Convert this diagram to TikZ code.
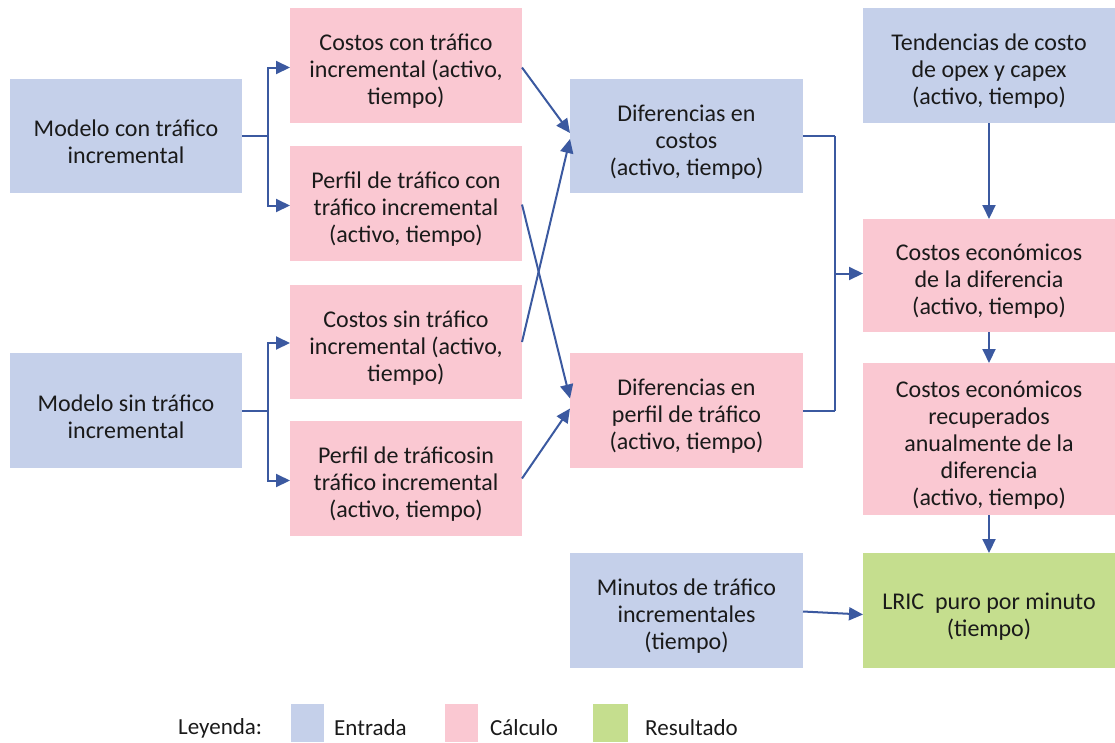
\documentclass[tikz,border=0pt]{standalone}
\usepackage{fontspec}
\setmainfont{Carlito}
\usetikzlibrary{arrows.meta,calc}
\definecolor{cin}{RGB}{197,208,234}
\definecolor{ccalc}{RGB}{250,200,210}
\definecolor{cres}{RGB}{197,222,142}
\definecolor{cline}{RGB}{59,89,160}
\definecolor{ctext}{RGB}{26,26,26}
\tikzset{
  box/.style={inner sep=0pt, outer sep=0pt},
  txt/.style={inner sep=0pt, outer sep=0pt, align=center, text=ctext,
    font=\fontsize{24}{27}\selectfont},
  inbox/.style={box, fill=cin},
  calcbox/.style={box, fill=ccalc},
  resbox/.style={box, fill=cres},
  conn/.style={draw=cline, line width=2pt},
  arr/.style={conn, -{Triangle[length=14pt,width=13pt]}},
  legtext/.style={text=ctext, font=\fontsize{23}{26}\selectfont, inner sep=0pt, anchor=west},
}
\newcommand{\bx}[7]{% style, name, x1, y1, x2, y2, text
  \node[#1, minimum width={#5-#3}, minimum height={#6-#4}] (#2) at ({(#3+#5)/2},{(#4+#6)/2}) {};
  \node[txt] (#2-t) at ([yshift=-6pt]#2.center) {#7};}
\begin{document}
\begin{tikzpicture}[x=1pt,y=-1pt]
\useasboundingbox (0,0) rectangle (1115,742);
% inputs
\bx{inbox}{mcon}{10}{79}{242}{193}{Modelo con tráfico\\incremental}
\bx{inbox}{msin}{10}{353}{242}{468}{Modelo sin tráfico\\incremental}
% column 2
\bx{calcbox}{cc}{290}{8}{522}{123}{Costos con tráfico\\incremental (activo,\\tiempo)}
\bx{calcbox}{pc}{290}{146}{522}{261}{Perfil de tráfico con\\tráfico incremental\\(activo, tiempo)}
\bx{calcbox}{cs}{290}{285}{522}{399}{Costos sin tráfico\\incremental (activo,\\tiempo)}
\bx{calcbox}{ps}{290}{421}{522}{536}{Perfil de tráficosin\\tráfico incremental\\(activo, tiempo)}
% column 3
\bx{inbox}{dc}{570}{79}{803}{193}{Diferencias en\\costos\\(activo, tiempo)}
\bx{calcbox}{dp}{570}{353}{803}{468}{Diferencias en\\perfil de tráfico\\(activo, tiempo)}
\bx{inbox}{mt}{570}{553}{803}{668}{Minutos de tráfico\\incrementales\\(tiempo)}
% column 4
\bx{inbox}{te}{863}{8}{1115}{123}{Tendencias de costo\\de opex y capex\\(activo, tiempo)}
\bx{calcbox}{ce}{863}{219}{1115}{332}{Costos económicos\\de la diferencia\\(activo, tiempo)}
\bx{calcbox}{cr}{863}{363}{1115}{515}{Costos económicos\\recuperados\\anualmente de la\\diferencia\\(activo, tiempo)}
\bx{resbox}{lr}{863}{553}{1115}{668}{LRIC\ \ puro por minuto\\(tiempo)}
% connectors: model fan-outs
\draw[conn] (mcon.east) -- ++(26,0) coordinate (j1);
\draw[arr] (j1) |- ([yshift=-2pt]cc.west);
\draw[arr] (j1) |- ([yshift=-2pt]pc.west);
\draw[conn] (msin.east) -- ++(26,0) coordinate (j2);
\draw[arr] (j2) |- ([yshift=-1pt]cs.west);
\draw[arr] (j2) |- ([yshift=-2pt]ps.west);
% diagonals
\draw[arr] ([yshift=-2pt]cc.east) -- ([yshift=3pt]dc.west);
\draw[arr] (cs.east) -- ([yshift=-3pt]dc.west);
\draw[arr] ([yshift=-1pt]pc.east) -- ([yshift=12pt]dp.west);
\draw[arr] (ps.east) -- ([yshift=2pt]dp.west);
% merge to costos economicos
\draw[conn] (dc.east) -- ++(32,0) coordinate (k1);
\draw[conn] (dp.east) -- ++(32,0) coordinate (k2);
\draw[conn] (k1) -- (k2);
\coordinate (k3) at (k1 |- ce.west);
\draw[arr] ([yshift=2pt]k3) -- ([yshift=2pt]ce.west);
% verticals
\draw[arr] (te.south) -- (ce.north);
\draw[arr] (ce.south) -- (cr.north);
\draw[arr] (cr.south) -- (lr.north);
\draw[arr] ([yshift=-1pt]mt.east) -- ([yshift=-4pt]lr.west);
% legend
\node[legtext] (lg) at (178,728) {Leyenda:};
\node[fill=cin, minimum width=33pt, minimum height=38pt, inner sep=0pt] (l1) at (307,723) {};
\node[legtext] (l1t) at (334,728) {Entrada};
\node[fill=ccalc, minimum width=33pt, minimum height=38pt, inner sep=0pt] (l2) at (461,723) {};
\node[legtext] (l2t) at (490,728) {Cálculo};
\node[fill=cres, minimum width=35pt, minimum height=38pt, inner sep=0pt] (l3) at (610,723) {};
\node[legtext] (l3t) at (645,728) {Resultado};
\end{tikzpicture}
\end{document}
